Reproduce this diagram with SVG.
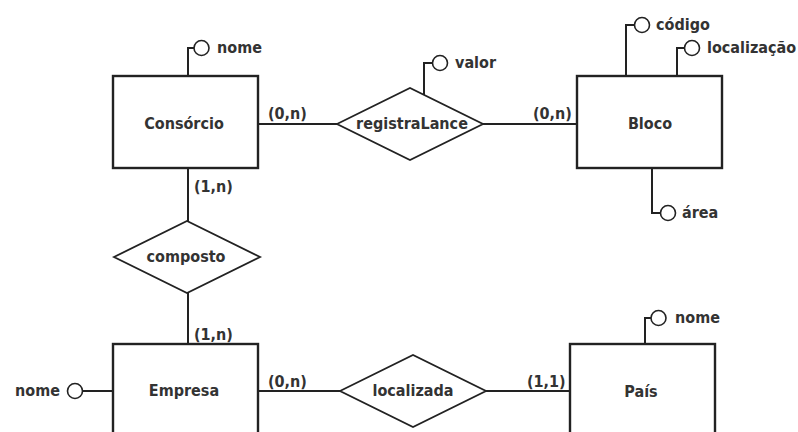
<svg xmlns="http://www.w3.org/2000/svg" width="798" height="432" viewBox="0 0 798 432">
<style>
.ent{fill:#fff;stroke:#222;stroke-width:2.4}
.rel{fill:#fff;stroke:#222;stroke-width:1.8}
.att{fill:#fff;stroke:#222;stroke-width:1.6}
.ln{fill:none;stroke:#222;stroke-width:2}
text{font-family:"DejaVu Sans Condensed","DejaVu Sans","Liberation Sans",sans-serif;font-stretch:condensed;font-weight:bold;font-size:16px;fill:#333}
.c{text-anchor:middle}
</style>
<rect width="798" height="432" fill="#fff"/>
<g id="connectors">
<line class="ln" x1="258" y1="124" x2="337" y2="124"/>
<line class="ln" x1="483" y1="124" x2="577" y2="124"/>
<line class="ln" x1="188" y1="168" x2="188" y2="221"/>
<line class="ln" x1="188" y1="293" x2="188" y2="344"/>
<line class="ln" x1="258" y1="391" x2="340" y2="391"/>
<line class="ln" x1="486" y1="391" x2="570" y2="391"/>
<polyline class="ln" points="188,76 188,48 194,48"/>
<polyline class="ln" points="424,95 424,63 432,63"/>
<polyline class="ln" points="626,76 626,25 634,25"/>
<polyline class="ln" points="677,76 677,48 684,48"/>
<polyline class="ln" points="652,168 652,213 660,213"/>
<line class="ln" x1="83" y1="391" x2="113" y2="391"/>
<polyline class="ln" points="645,344 645,318 651,318"/>
</g>
<g id="lbl">
<text x="268" y="119">(0,n)</text>
<text x="533" y="119">(0,n)</text>
<text x="194" y="192">(1,n)</text>
<text x="194" y="340">(1,n)</text>
<text x="268" y="387">(0,n)</text>
<text x="527" y="387">(1,1)</text>
</g>
<g id="consorcio"><rect class="ent" x="113" y="76" width="145" height="92"/><text class="c" x="184" y="129">Consórcio</text></g>
<g id="bloco"><rect class="ent" x="577" y="76" width="145" height="92"/><text class="c" x="650" y="129">Bloco</text></g>
<g id="empresa"><rect class="ent" x="113" y="344" width="145" height="100"/><text class="c" x="184" y="396">Empresa</text></g>
<g id="pais"><rect class="ent" x="570" y="344" width="145" height="100"/><text class="c" x="641" y="397">País</text></g>
<g id="registraLance"><polygon class="rel" points="337,124 410,88 483,124 410,160"/><text class="c" x="412" y="129">registraLance</text></g>
<g id="composto"><polygon class="rel" points="114,257 187,221 260,257 187,293"/><text class="c" x="186" y="262">composto</text></g>
<g id="localizada"><polygon class="rel" points="340,391 413,355 486,391 413,427"/><text class="c" x="413" y="396">localizada</text></g>
<g id="attr-consorcio-nome"><circle class="att" cx="201.5" cy="48" r="7.5"/><text x="217" y="53">nome</text></g>
<g id="attr-valor"><circle class="att" cx="440" cy="63" r="7.5"/><text x="455" y="68">valor</text></g>
<g id="attr-codigo"><circle class="att" cx="642" cy="25" r="7.5"/><text x="656" y="30">código</text></g>
<g id="attr-localizacao"><circle class="att" cx="692" cy="48" r="7.5"/><text x="707" y="53">localização</text></g>
<g id="attr-area"><circle class="att" cx="668" cy="213" r="7.5"/><text x="682" y="218">área</text></g>
<g id="attr-empresa-nome"><circle class="att" cx="75" cy="391" r="7.5"/><text x="15" y="396">nome</text></g>
<g id="attr-pais-nome"><circle class="att" cx="658.5" cy="318" r="7.5"/><text x="675" y="323">nome</text></g>
</svg>
